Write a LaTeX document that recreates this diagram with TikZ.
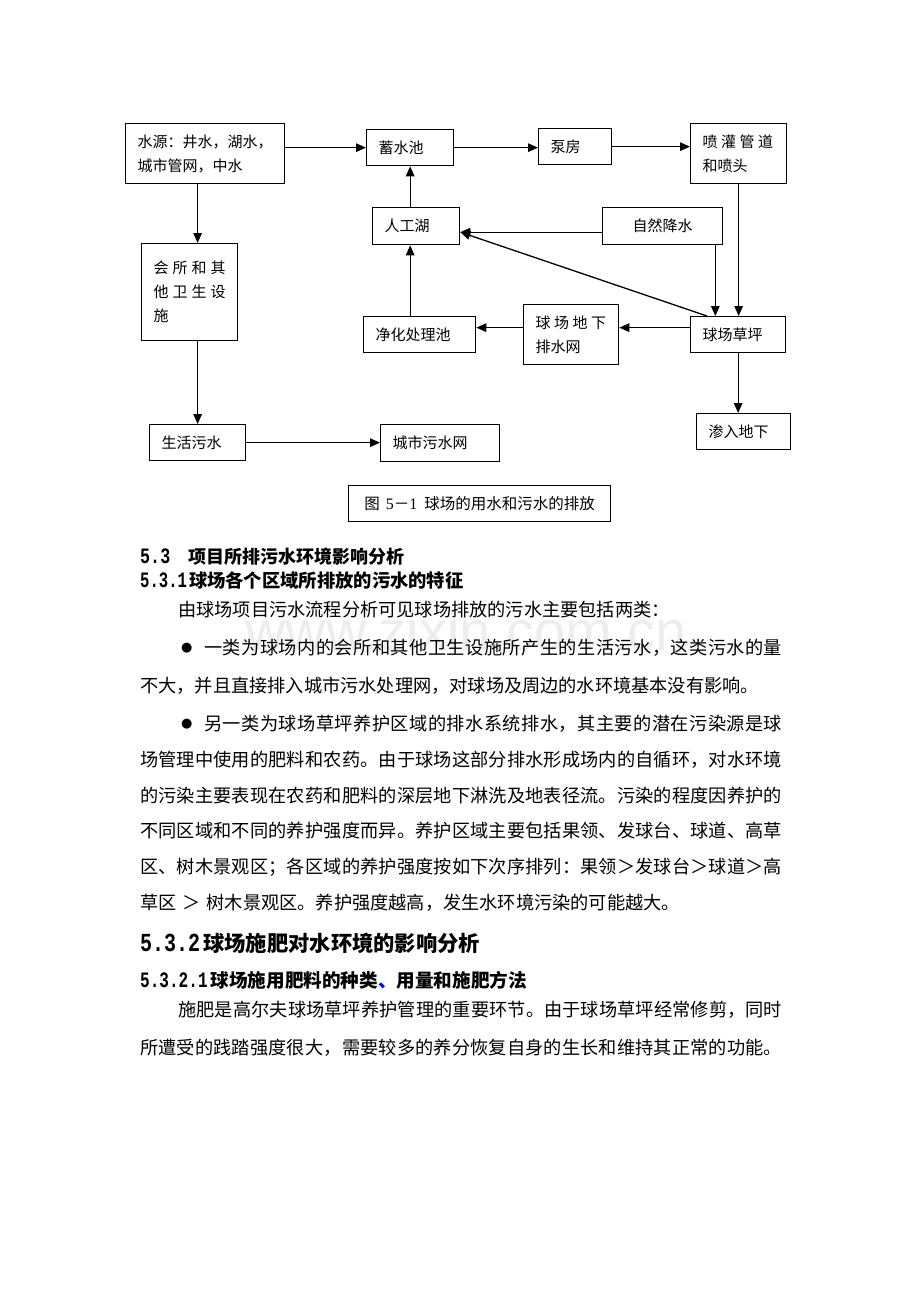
\documentclass[tikz,border=0pt]{standalone}
\usepackage{graphicx}
\usepackage{fontspec}
\setmainfont{Noto Sans CJK SC}
\newfontfamily\cjk{Noto Sans CJK SC}
\newfontfamily\mono{Liberation Mono}
\newfontfamily\serif{Liberation Serif}
\newfontfamily\dejavu{DejaVu Sans}
\newfontfamily\wmfont{Liberation Sans}
\usetikzlibrary{arrows.meta,calc}
\makeatletter
\newcommand\jline[2]{\makebox[#1][s]{\jl@first#2\relax}}
\def\jl@first#1{#1\jl@rest}
\def\jl@rest#1{\ifx\relax#1\else\hfil#1\expandafter\jl@rest\fi}
\newcommand\lsp[2]{\lsp@first{#1}#2\relax}
\def\lsp@first#1#2{\def\lsp@k{#1}#2\lsp@rest}
\def\lsp@rest#1{\ifx\relax#1\else\kern\lsp@k#1\expandafter\lsp@rest\fi}
\makeatother
\newcommand\hnum[3]{\scalebox{#2}[1]{\mono\bfseries\fontsize{#1}{#1}\selectfont #3}}
\begin{document}
\begin{tikzpicture}[x=1pt,y=-1pt,
  box/.style={draw, line width=1.3pt, inner xsep=12pt, inner ysep=0pt, anchor=north west,
    font=\cjk\fontsize{15}{24}\selectfont, align=left},
  arr/.style={line width=1.3pt, -{Triangle[length=10pt,width=8.5pt]}},
  body/.style={anchor=west, inner sep=0pt, font=\cjk\fontsize{18.2}{22}\selectfont},
  head/.style={anchor=west, inner sep=0pt},
  dot/.style={anchor=west, inner sep=0pt, font=\dejavu\fontsize{13}{13}\selectfont}]
\fill[white] (0,0) rectangle (920,1302);
\useasboundingbox (0,0) rectangle (920,1302);

% watermark
\node[anchor=base west, inner sep=0pt, text=black!7, font=\wmfont\fontsize{56}{56}\selectfont] (wm) at (245,650) {www.zixin.com.cn};

% diagram boxes
\node[box, text width=135pt, minimum height=60pt] (src) at (125,123) {水源：井水，湖水，\\城市管网，中水};
\node[box, text width=63pt, minimum height=36pt] (store) at (366,129) {蓄水池};
\node[box, text width=49pt, minimum height=36pt] (pump) at (538,128) {泵房};
\node[box, text width=72pt, minimum height=60pt] (spray) at (690,123) {\lsp{3.5pt}{喷灌管道}\\和喷头};
\node[box, text width=63pt, minimum height=37pt] (lake) at (372,207) {人工湖};
\node[box, text width=96pt, minimum height=37pt, align=center] (rain) at (602,207) {自然降水};
\node[box, text width=72pt, minimum height=97pt] (club) at (141,243) {\lsp{4pt}{会所和其}\\\lsp{4pt}{他卫生设}\\施};
\node[box, text width=88pt, minimum height=36pt] (purify) at (363,316) {净化处理池};
\node[box, text width=71pt, minimum height=60pt] (drain) at (523,304) {\lsp{3.5pt}{球场地下}\\排水网};
\node[box, text width=71pt, minimum height=36pt] (lawn) at (690,316) {球场草坪};
\node[box, text width=70pt, minimum height=36pt] (seep) at (696,413) {渗入地下};
\node[box, text width=72pt, minimum height=36pt] (sewage) at (149,424) {生活污水};
\node[box, text width=95pt, minimum height=37pt] (city) at (380,424) {城市污水网};
\node[box, text width=238pt, minimum height=36pt, align=center, font=\cjk\fontsize{15.5}{18}\selectfont] (cap) at (348,485)
  {图\hspace{6pt}{\serif\fontsize{16}{18}\selectfont 5}－{\serif\fontsize{16}{18}\selectfont 1}\hspace{7pt}球场的用水和污水的排放};

% connectors
\draw[arr] (src.east |- store.west) -- (store.west);
\draw[arr] (store.east) -- (store.east -| pump.west);
\draw[arr] (pump.east) -- (pump.east -| spray.west);
\draw[arr] (src.south -| sewage.north) -- (club.north -| sewage.north);
\draw[arr] (club.south -| sewage.north) -- (sewage.north);
\draw[arr] (sewage.east) -- (sewage.east -| city.west);
\draw[arr] (lake.north -| store.south) -- (store.south);
\draw[arr] (purify.north -| store.south) -- (lake.south -| store.south);
\draw[arr] (spray.south) -- (spray.south |- lawn.north);
\coordinate (rainout) at ($(rain.south east)+(-8,0)$);
\draw[arr] (rainout) -- (rainout |- lawn.north);
\coordinate (lakein) at ($(lake.east)+(0,6)$);
\draw[arr] (lakein -| rain.west) -- (lakein);
\coordinate (lawnout) at ($(lawn.north west)+(17,0)$);
\draw[arr] (lawnout) -- (lakein);
\coordinate (drainrow) at ($(lawn.west)+(0,-7)$);
\draw[arr] (drainrow) -- (drainrow -| drain.east);
\draw[arr] (drainrow -| drain.west) -- (drainrow -| purify.east);
\draw[arr] (lawn.south) -- (lawn.south |- seep.north);

% headings and text
\node[head] (h1) at (140,557) {\hnum{22}{0.76}{5.3}\hspace{18pt}{\cjk\bfseries\fontsize{18}{18}\selectfont 项目所排污水环境影响分析}};
\node[head] (h2) at (140,581) {\hnum{22}{0.71}{5.3.1}\hspace{2pt}{\cjk\bfseries\fontsize{18.3}{18}\selectfont 球场各个区域所排放的污水的特征}};
\node[body] (t1) at (178,610) {由球场项目污水流程分析可见球场排放的污水主要包括两类：};
\node[dot] (d1) at (181,648) {●};
\node[body] (t2) at (204,648) {\jline{578pt}{一类为球场内的会所和其他卫生设施所产生的生活污水，这类污水的量}};
\node[body] (t3) at (140,686) {不大，并且直接排入城市污水处理网，对球场及周边的水环境基本没有影响。};
\node[dot] (d2) at (181,724) {●};
\node[body] (t4) at (204,724) {\jline{578pt}{另一类为球场草坪养护区域的排水系统排水，其主要的潜在污染源是球}};
\node[body] (t5) at (140,760) {\jline{642pt}{场管理中使用的肥料和农药。由于球场这部分排水形成场内的自循环，对水环境}};
\node[body] (t6) at (140,796) {\jline{642pt}{的污染主要表现在农药和肥料的深层地下淋洗及地表径流。污染的程度因养护的}};
\node[body] (t7) at (140,831) {\jline{642pt}{不同区域和不同的养护强度而异。养护区域主要包括果领、发球台、球道、高草}};
\node[body] (t8) at (140,867) {\jline{642pt}{区、树木景观区；各区域的养护强度按如下次序排列：果领＞发球台＞球道＞高}};
\node[body] (t9) at (140,903) {草区\hspace{6pt}＞\hspace{6pt}树木景观区。养护强度越高，发生水环境污染的可能越大。};
\node[head] (h3) at (140,943) {\hnum{26}{0.77}{5.3.2}\hspace{3pt}{\cjk\bfseries\fontsize{21.3}{22}\selectfont 球场施肥对水环境的影响分析}};
\node[head] (h4) at (140,980) {\hnum{22}{0.73}{5.3.2.1}\hspace{3pt}{\cjk\bfseries\fontsize{18.6}{18}\selectfont 球场施用肥料的种类\textcolor{blue}{、}用量和施肥方法}};
\node[body] (t10) at (178,1010) {\jline{604pt}{施肥是高尔夫球场草坪养护管理的重要环节。由于球场草坪经常修剪，同时}};
\node[body] (t11) at (140,1048) {\jline{642pt}{所遭受的践踏强度很大，需要较多的养分恢复自身的生长和维持其正常的功能。}};
\end{tikzpicture}
\end{document}
